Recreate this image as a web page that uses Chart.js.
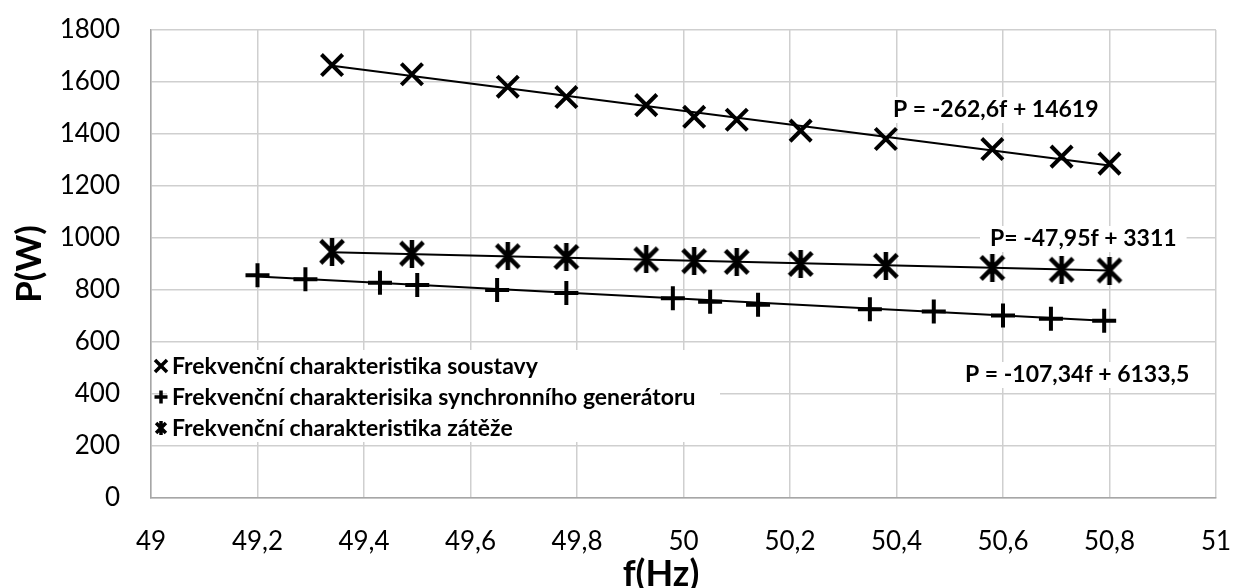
<!DOCTYPE html>
<html><head><meta charset="utf-8">
<script src="https://cdn.jsdelivr.net/npm/chart.js@4.4.0/dist/chart.umd.min.js"></script>
<style>html,body{margin:0;padding:0;background:#fff;} #wrap{width:1236px;height:588px;position:relative;}</style>
</head><body><div id="wrap"><canvas id="c" width="1236" height="588"></canvas></div>
<script>
// ---- data ----
const seriesNames = ['Frekvenční charakteristika soustavy', 'Frekvenční charakterisika synchronního generátoru', 'Frekvenční charakteristika zátěže'];
const soustavaF = [49.34, 49.49, 49.67, 49.78, 49.93, 50.02, 50.10, 50.22, 50.38, 50.58, 50.71, 50.80];
const soustavaP = [1665, 1630, 1582, 1542, 1511, 1466, 1455, 1413, 1381, 1342, 1313, 1286];
const generatorF = [49.20, 49.29, 49.43, 49.50, 49.65, 49.78, 49.98, 50.05, 50.14, 50.35, 50.47, 50.60, 50.69, 50.79];
const generatorP = [857, 841, 828, 819, 800, 788, 768, 755, 743, 726, 717, 702, 689, 682];
const zatezF = [49.34, 49.49, 49.67, 49.78, 49.93, 50.02, 50.10, 50.22, 50.38, 50.58, 50.71, 50.80];
const zatezP = [947, 940, 930, 927, 918, 911, 908, 900, 893, 885, 878, 875];
// trendline equations printed on the chart
const trendSlopes = [-262.6, -107.34, -47.95];
const trendIntercepts = [14619, 6133.5, 3311];
const trendLabels = ['P = -262,6f + 14619', 'P = -107,34f + 6133,5', 'P= -47,95f + 3311'];
const xTickValues = [49, 49.2, 49.4, 49.6, 49.8, 50, 50.2, 50.4, 50.6, 50.8, 51];
const xTickLabels = ['49', '49,2', '49,4', '49,6', '49,8', '50', '50,2', '50,4', '50,6', '50,8', '51'];
const yTickLabels = ['0', '200', '400', '600', '800', '1000', '1200', '1400', '1600', '1800'];
const xAxisTitle = 'f(Hz)';
const yAxisTitle = 'P(W)';

const FONT = 'Lato, "Open Sans", "DejaVu Sans", sans-serif';

function makeAsterisk(size, lw) {
  const c = document.createElement('canvas');
  c.width = size; c.height = size;
  const g = c.getContext('2d');
  g.strokeStyle = '#000'; g.lineWidth = lw; g.lineCap = 'butt';
  const m = lw * 0.6;
  g.beginPath();
  g.moveTo(size / 2, 0); g.lineTo(size / 2, size);
  g.moveTo(m, m); g.lineTo(size - m, size - m);
  g.moveTo(size - m, m); g.lineTo(m, size - m);
  g.stroke();
  return c;
}
const bigAsterisk = makeAsterisk(28, 4.5);
const smallAsterisk = makeAsterisk(14, 3.5);

function pts(F, P) { return F.map((f, i) => ({x: f, y: P[i]})); }
function trend(F, k) {
  const a = trendSlopes[k], b = trendIntercepts[k];
  const f0 = F[0], f1 = F[F.length - 1];
  return [{x: f0, y: a * f0 + b}, {x: f1, y: a * f1 + b}];
}

const overlay = {
  id: 'overlay',
  beforeDatasetsDraw(chart) {
    const ctx = chart.ctx, ca = chart.chartArea;
    ctx.save();
    // legend box
    const lx = ca.left + 16, ly = ca.bottom - 148;
    ctx.fillStyle = '#fff';
    ctx.fillRect(lx, ly, 553, 92);
    const rows = [ca.bottom - 132, ca.bottom - 101, ca.bottom - 70];
    const mx = ca.left + 10;
    ctx.font = 'bold 23px ' + FONT;
    ctx.textBaseline = 'middle';
    ctx.textAlign = 'left';
    rows.forEach((y, i) => {
      ctx.strokeStyle = '#000'; ctx.fillStyle = '#000';
      ctx.lineWidth = 3.5;
      if (i === 0) {
        Chart.helpers.drawPoint(ctx, {pointStyle: 'crossRot', radius: 8.5, borderWidth: 3.5}, mx, y);
      } else if (i === 1) {
        Chart.helpers.drawPoint(ctx, {pointStyle: 'cross', radius: 6.5, borderWidth: 3.5}, mx, y);
      } else {
        ctx.drawImage(smallAsterisk, mx - 7, y - 7);
      }
      ctx.fillStyle = '#000';
      ctx.fillText(seriesNames[i], mx + 11, y + 1);
    });
    // equation labels
    ctx.font = 'bold 23px ' + FONT;
    const eqPos = [[ca.left + 742, ca.top + 80], [ca.left + 814, ca.top + 345], [ca.left + 839, ca.top + 209]];
    eqPos.forEach((p, i) => {
      const w = ctx.measureText(trendLabels[i]).width;
      ctx.fillStyle = '#fff';
      ctx.fillRect(p[0] - 10, p[1] - 13, w + 20, 26);
      ctx.fillStyle = '#000';
      ctx.fillText(trendLabels[i], p[0], p[1]);
    });
    ctx.restore();
  },
  afterDraw(chart) {
    const ctx = chart.ctx, ca = chart.chartArea;
    ctx.save();
    ctx.fillStyle = '#000';
    ctx.textAlign = 'center';
    ctx.textBaseline = 'middle';
    ctx.font = 'bold 36px ' + FONT;
    ctx.fillText(xAxisTitle, ca.left + 510, chart.height - 14);
    ctx.translate(30, ca.top + 234);
    ctx.rotate(-Math.PI / 2);
    ctx.font = 'bold 35px ' + FONT;
    ctx.fillText(yAxisTitle, 0, 0);
    ctx.restore();
  }
};

new Chart(document.getElementById('c'), {
  type: 'scatter',
  data: {
    datasets: [
      {label: seriesNames[0], data: pts(soustavaF, soustavaP), pointStyle: 'crossRot', pointRadius: 15, pointHoverRadius: 15,
       pointBorderWidth: 4, borderColor: '#000', backgroundColor: '#000', showLine: false, order: 1},
      {label: seriesNames[1], data: pts(generatorF, generatorP), pointStyle: 'cross', pointRadius: 12, pointHoverRadius: 12,
       pointBorderWidth: 4, borderColor: '#000', backgroundColor: '#000', showLine: false, order: 1},
      {label: seriesNames[2], data: pts(zatezF, zatezP), pointStyle: bigAsterisk, pointRadius: 14,
       borderColor: '#000', backgroundColor: '#000', showLine: false, order: 1},
      {label: 't1', data: trend(soustavaF, 0), showLine: true, borderColor: '#000', borderWidth: 2, pointRadius: 0, order: 2},
      {label: 't2', data: trend(generatorF, 1), showLine: true, borderColor: '#000', borderWidth: 2, pointRadius: 0, order: 2},
      {label: 't3', data: trend(zatezF, 2), showLine: true, borderColor: '#000', borderWidth: 2, pointRadius: 0, order: 2}
    ]
  },
  options: {
    responsive: false,
    animation: false,
    devicePixelRatio: 1,
    layout: {padding: {left: 0, right: 20, top: 30, bottom: 0}},
    plugins: {legend: {display: false}, tooltip: {enabled: false}},
    scales: {
      x: {
        type: 'linear', min: 49, max: 51,
        afterBuildTicks(s) { s.ticks = xTickValues.map(v => ({value: v})); },
        afterFit(s) { s.height = 90; s.paddingLeft = 0; s.paddingRight = 0; },
        grid: {color: '#cfcfcf', lineWidth: 1.5, drawTicks: false},
        border: {color: '#a6a6a6', width: 1.5},
        ticks: {color: '#000', padding: 28, font: {family: FONT, size: 26},
          callback(v) { const i = xTickValues.findIndex(t => Math.abs(t - v) < 1e-6); return i >= 0 ? xTickLabels[i] : ''; }}
      },
      y: {
        min: 0, max: 1800,
        afterFit(s) { s.width = 151; s.paddingTop = 0; s.paddingBottom = 0; },
        grid: {color: '#cfcfcf', lineWidth: 1.5, drawTicks: false},
        border: {color: '#a6a6a6', width: 1.5},
        ticks: {color: '#000', stepSize: 200, padding: 31, font: {family: FONT, size: 26},
          callback(v) { return yTickLabels[Math.round(v / 200)]; }}
      }
    }
  },
  plugins: [overlay]
});
</script></body></html>
